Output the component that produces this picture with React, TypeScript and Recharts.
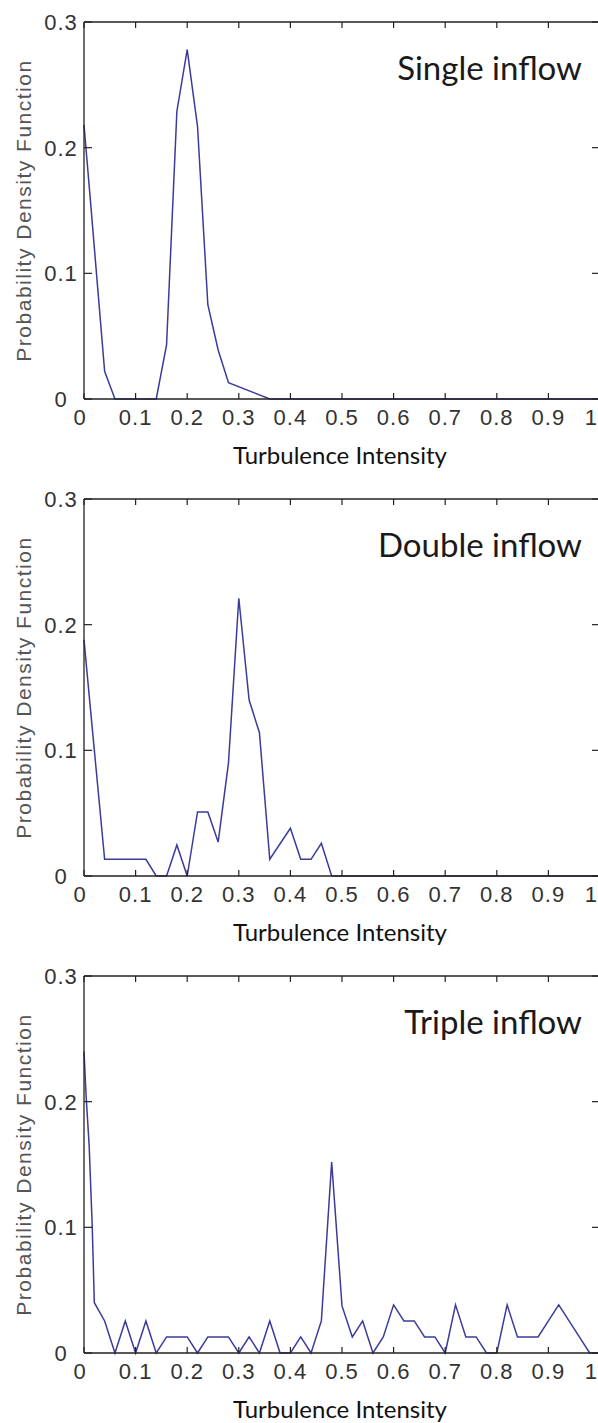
import { LineChart, Line, XAxis, YAxis, ReferenceLine } from "recharts";

// axis ticks
const X_TICKS = [0, 0.1, 0.2, 0.3, 0.4, 0.5, 0.6, 0.7, 0.8, 0.9, 1];
const X_TICK_LABELS = ["0", "0.1", "0.2", "0.3", "0.4", "0.5", "0.6", "0.7", "0.8", "0.9", "1"];
const Y_TICKS = [0, 0.1, 0.2, 0.3];
const Y_TICK_LABELS = ["0", "0.1", "0.2", "0.3"];

const TITLES = ["Single inflow", "Double inflow", "Triple inflow"];

// Single inflow
const singleX = [0, 0.012, 0.04, 0.06, 0.14, 0.16, 0.18, 0.2, 0.22, 0.24, 0.26, 0.28, 0.36, 1];
const singleY = [0.218, 0.16, 0.022, 0, 0, 0.043, 0.229, 0.278, 0.217, 0.075, 0.039, 0.013, 0, 0];

// Double inflow
const doubleX = [0, 0.012, 0.04, 0.12, 0.14, 0.16, 0.18, 0.2, 0.22, 0.24, 0.26, 0.28, 0.3, 0.32, 0.34, 0.36, 0.4, 0.42, 0.44, 0.46, 0.48, 1];
const doubleY = [0.188, 0.135, 0.0133, 0.0133, 0, 0, 0.0247, 0, 0.051, 0.051, 0.027, 0.09, 0.221, 0.14, 0.114, 0.0133, 0.038, 0.0133, 0.0133, 0.026, 0, 0];

// Triple inflow
const tripleX = [
  0, 0.004, 0.01, 0.016, 0.02, 0.04, 0.06, 0.08, 0.1, 0.12, 0.14, 0.16, 0.18, 0.2, 0.22, 0.24, 0.26, 0.28,
  0.3, 0.32, 0.34, 0.36, 0.38, 0.4, 0.42, 0.44, 0.46, 0.48, 0.5, 0.52, 0.54, 0.56, 0.58, 0.6, 0.62, 0.64,
  0.66, 0.68, 0.7, 0.72, 0.74, 0.76, 0.78, 0.8, 0.82, 0.84, 0.86, 0.88, 0.9, 0.92, 0.94, 0.96, 0.98, 1,
];
const tripleY = [
  0.24, 0.205, 0.165, 0.1, 0.04, 0.0255, 0, 0.0255, 0, 0.0255, 0, 0.0128, 0.0128, 0.0128, 0, 0.0128, 0.0128, 0.0128,
  0, 0.0128, 0, 0.0255, 0, 0, 0.0128, 0, 0.0255, 0.152, 0.0375, 0.0128, 0.0255, 0, 0.0128, 0.0383, 0.0255, 0.0255,
  0.0128, 0.0128, 0, 0.0383, 0.0128, 0.0128, 0, 0, 0.0383, 0.0128, 0.0128, 0.0128, 0.0255, 0.0383, 0.0255, 0.0128, 0, 0,
];

const SERIES = [
  { xs: singleX, ys: singleY },
  { xs: doubleX, ys: doubleY },
  { xs: tripleX, ys: tripleY },
];

// layout (each panel is its own svg, stacked)
const W = 640;
const H = 477;
const PLOT_L = 84;
const PLOT_R = 600;
const PLOT_T = 22;
const PLOT_B = 399;
const AXIS = "#222";
const LINE = "#3b3b9c";
const TICK_FONT = "'Liberation Sans', Arial, sans-serif";
const LABEL_FONT = "Lato, 'Open Sans', sans-serif";

const XTick = (props: any) => {
  const { x, index } = props;
  const last = index === X_TICKS.length - 1;
  // first label sits a little left of its tick; last one is clipped by the page edge, keep it inside
  const tx = index === 0 ? x - 4 : last ? 597 : x;
  return (
    <g>
      <line x1={x} x2={x} y1={PLOT_B} y2={PLOT_B - 6} stroke={AXIS} strokeWidth={1.2} />
      <line x1={x} x2={x} y1={PLOT_T} y2={PLOT_T + 6} stroke={AXIS} strokeWidth={1.2} />
      <text x={tx} y={PLOT_B + 26} textAnchor={last ? "end" : "middle"} fontSize={22}
        letterSpacing={last ? 0 : 1} fontFamily={TICK_FONT} fill="#333">
        {X_TICK_LABELS[index]}
      </text>
    </g>
  );
};

const YTick = (props: any) => {
  const { y, index } = props;
  return (
    <g>
      <line x1={PLOT_L} x2={PLOT_L + 8} y1={y} y2={y} stroke={AXIS} strokeWidth={1.2} />
      <line x1={PLOT_R} x2={PLOT_R - 8} y1={y} y2={y} stroke={AXIS} strokeWidth={1.2} />
      <text x={61} y={y + 8} textAnchor="middle" fontSize={22} letterSpacing={1}
        fontFamily={TICK_FONT} fill="#333">
        {Y_TICK_LABELS[index]}
      </text>
    </g>
  );
};

const XLabel = () => (
  <text x={340} y={PLOT_B + 65} textAnchor="middle" fontSize={24}
    fontFamily={LABEL_FONT} fill="#111">
    Turbulence Intensity
  </text>
);

const YLabel = () => {
  const cy = (PLOT_T + PLOT_B) / 2;
  return (
    <text x={23} y={cy} transform={`rotate(-90, 23, ${cy})`} textAnchor="middle"
      dominantBaseline="central" fontSize={21} letterSpacing={1.5}
      fontFamily={TICK_FONT} fill="#555">
      Probability Density Function
    </text>
  );
};

function Panel({ title, xs, ys }: { title: string; xs: number[]; ys: number[] }) {
  const data = xs.map((x, i) => ({ x, y: ys[i] }));
  return (
    <LineChart width={W} height={H} data={data}
      margin={{ top: PLOT_T, right: W - PLOT_R, bottom: H - PLOT_B - 40, left: 0 }}>
      <XAxis dataKey="x" type="number" domain={[0, 1]} ticks={X_TICKS} interval={0}
        height={40} tickLine={false} tick={<XTick />}
        axisLine={{ stroke: AXIS, strokeWidth: 1.3 }} label={<XLabel />} />
      <YAxis type="number" domain={[0, 0.3]} ticks={Y_TICKS} interval={0}
        width={PLOT_L} tickLine={false} tick={<YTick />}
        axisLine={{ stroke: AXIS, strokeWidth: 1.3 }} label={<YLabel />} />
      {/* box: top and right edges */}
      <ReferenceLine y={0.3} stroke={AXIS} strokeWidth={1.3} ifOverflow="visible" />
      <ReferenceLine x={1} stroke={AXIS} strokeWidth={1.3} ifOverflow="visible" />
      <Line type="linear" dataKey="y" stroke={LINE} strokeWidth={1.5} dot={false}
        isAnimationActive={false} />
      <text x={582} y={PLOT_T + 58} textAnchor="end" fontSize={33}
        fontFamily={LABEL_FONT} fill="#1a1a1a">
        {title}
      </text>
    </LineChart>
  );
}

export default function App() {
  return (
    <div style={{ position: "absolute", left: 0, top: 0, width: 598, height: 1423,
      overflow: "hidden", background: "#fff" }}>
      {SERIES.map((s, i) => (
        <div key={i} style={{ position: "absolute", left: 0, top: i * H }}>
          <Panel title={TITLES[i]} xs={s.xs} ys={s.ys} />
        </div>
      ))}
    </div>
  );
}
